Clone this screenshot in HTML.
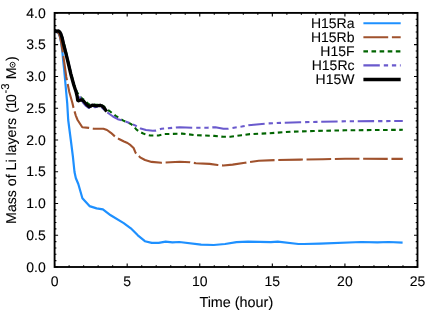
<!DOCTYPE html>
<html><head><meta charset="utf-8"><title>chart</title>
<style>
html,body{margin:0;padding:0;background:#fff;}
body{width:436px;height:318px;overflow:hidden;}
svg{display:block;will-change:transform;}
text{text-rendering:geometricPrecision;}
text{font-family:"Liberation Sans",sans-serif;font-size:14px;fill:#000;stroke:#000;stroke-width:0.1px;}
</style></head><body>
<svg width="436" height="318" viewBox="0 0 436 318">
<rect x="0" y="0" width="436" height="318" fill="#fff"/>

<g fill="none" stroke-linejoin="round" stroke-linecap="butt">
<path d="M54.6,31.8 L57.0,32.2 L58.8,33.8 L60.0,37.0 L61.2,43.0 L62.3,51.0 L63.1,60.0 L64.2,70.0 L66.0,90.0 L67.2,103.0 L68.2,120.0 L70.8,140.0 L72.9,156.6 L74.5,172.0 L75.8,178.0 L78.3,184.0 L82.4,198.3 L89.5,206.1 L96.6,208.4 L102.9,209.4 L110.7,215.3 L123.7,223.1 L130.8,228.3 L137.8,235.3 L144.9,241.2 L151.8,242.9 L158.7,242.9 L165.6,241.7 L172.4,242.4 L179.3,242.0 L201.1,244.7 L213.7,245.0 L225.0,244.0 L236.5,242.2 L248.0,241.7 L270.9,242.2 L277.8,241.7 L298.4,244.0 L304.0,244.0 L320.0,243.6 L361.3,242.0 L377.3,242.4 L388.8,242.0 L402.6,242.7" stroke="#1e90ff" stroke-width="2.2"/>
<path d="M54.6,31.8 L57.2,32.2 L58.8,33.5 L59.9,36.5 L61.3,43.0 L62.6,51.0 L64.2,62.0 L66.3,77.0 L69.3,92.0 L72.4,103.0 L73.5,107.7 L75.7,115.3 L77.6,120.0 L82.3,127.2 L88.9,127.9 L93.6,128.7 L103.4,128.7 L107.0,130.0 L110.9,132.8 L115.0,136.5 L118.5,138.7 L124.0,141.5 L127.5,143.0 L130.6,145.2 L133.6,148.0 L135.6,152.8 L140.1,157.3 L145.0,160.0 L151.6,161.9 L161.5,162.8 L179.8,161.8 L190.1,162.3 L195.9,163.2 L209.6,163.9 L217.7,165.0 L223.4,165.5 L232.6,164.6 L245.0,162.8 L258.8,160.8 L274.8,160.1 L300.0,159.6 L323.0,159.2 L345.0,158.7 L402.8,158.9" stroke="#a0522d" stroke-width="2.1" stroke-dasharray="24.6 3.7" stroke-dashoffset="0.6"/>
<path d="M54.6,31.0 L57.5,31.2 L59.5,32.0 L61.0,33.8 L62.4,37.5 L64.0,44.0 L65.8,51.0 L68.3,62.0 L71.1,74.0 L74.3,85.0 L76.9,92.0 L79.0,95.0 L81.3,97.8 L84.0,99.8 L86.5,102.0 L88.8,104.5 L92.0,104.3 L96.0,104.9 L100.0,104.5 L104.0,106.5 L106.6,109.3 L109.5,111.0 L116.5,116.5 L123.4,120.6 L131.0,124.0 L133.5,126.0 L136.1,129.2 L139.0,131.5 L142.7,133.3 L146.0,134.6 L150.3,135.5 L158.6,135.5 L163.8,134.1 L182.1,133.6 L195.9,135.2 L214.2,135.9 L223.4,136.8 L230.3,136.8 L241.7,135.2 L250.0,134.1 L268.0,133.3 L290.9,131.7 L313.8,131.0 L345.0,130.3 L402.8,129.8" stroke="#006400" stroke-width="2.1" stroke-dasharray="4.6 3.5" stroke-dashoffset="7.1"/>
<path d="M54.6,31.0 L57.5,31.2 L59.5,32.0 L61.0,33.8 L62.4,37.5 L64.0,44.0 L65.8,51.0 L68.3,62.0 L71.1,74.0 L74.1,85.0 L76.5,92.0 L78.5,95.5 L80.2,97.6 L82.0,100.5 L83.0,102.5 L86.0,106.0 L88.7,108.0 L92.0,106.3 L95.0,107.2 L100.0,106.5 L102.0,107.5 L104.0,109.5 L106.6,112.0 L108.1,113.0 L113.0,116.5 L117.8,119.2 L122.0,120.3 L128.2,122.4 L135.1,125.4 L140.7,128.6 L146.0,130.0 L152.8,130.7 L155.9,130.6 L161.5,128.8 L179.8,127.2 L192.4,127.7 L207.3,127.7 L215.4,127.2 L223.4,128.8 L228.0,128.8 L241.7,126.5 L248.4,125.2 L268.0,123.4 L300.0,122.2 L320.7,121.8 L345.0,121.3 L402.8,121.0" stroke="#6a5acd" stroke-width="2.1" stroke-dasharray="16.4 4 4.3 3.8 4.3 3.7"/>
<path d="M54.6,30.4 L56.6,31.2 L58.6,31.0 L59.8,32.0 L60.8,33.8 L62.0,37.5 L63.5,44.0 L65.3,51.0 L68.0,62.0 L70.8,74.0 L73.8,85.0 L76.2,92.3 L77.2,96.5 L77.7,100.3 L78.6,100.8 L80.0,100.2 L81.8,99.8 L83.5,101.0 L86.5,104.5 L89.1,106.7 L90.5,106.2 L92.3,105.1 L94.0,105.3 L96.0,105.8 L98.0,105.6 L100.1,105.3 L102.0,106.0 L103.8,107.6 L105.3,109.5 L106.6,111.7" stroke="#000" stroke-width="3.35"/>
</g>
<text x="354.5" y="28.2" text-anchor="end">H15Ra</text>
<path d="M363.4,23.3 L400.7,23.3" stroke="#1e90ff" stroke-width="2.1" fill="none"/>
<text x="354.5" y="42.2" text-anchor="end">H15Rb</text>
<path d="M363.4,37.3 L400.7,37.3" stroke="#a0522d" stroke-width="2.1" fill="none" stroke-dasharray="24.8 3.7"/>
<text x="354.5" y="56.3" text-anchor="end">H15F</text>
<path d="M363.4,51.4 L400.7,51.4" stroke="#006400" stroke-width="2.1" fill="none" stroke-dasharray="4.6 3.5"/>
<text x="354.5" y="70.3" text-anchor="end">H15Rc</text>
<path d="M363.4,65.4 L400.7,65.4" stroke="#6a5acd" stroke-width="2.1" fill="none" stroke-dasharray="16.4 4 4.3 3.8 4.3 3.7"/>
<text x="354.5" y="84.4" text-anchor="end">H15W</text>
<path d="M363.4,79.5 L400.7,79.5" stroke="#000" stroke-width="3.3" fill="none"/>
<rect x="54.6" y="12.9" width="362.9" height="254.1" fill="none" stroke="#000" stroke-width="1.85"/>
<path d="M54.60,267.00 v-3.5 M54.60,12.90 v3.5 M69.12,267.00 v-1.8 M69.12,12.90 v1.8 M83.63,267.00 v-1.8 M83.63,12.90 v1.8 M98.15,267.00 v-1.8 M98.15,12.90 v1.8 M112.66,267.00 v-1.8 M112.66,12.90 v1.8 M127.18,267.00 v-3.5 M127.18,12.90 v3.5 M141.70,267.00 v-1.8 M141.70,12.90 v1.8 M156.21,267.00 v-1.8 M156.21,12.90 v1.8 M170.73,267.00 v-1.8 M170.73,12.90 v1.8 M185.24,267.00 v-1.8 M185.24,12.90 v1.8 M199.76,267.00 v-3.5 M199.76,12.90 v3.5 M214.28,267.00 v-1.8 M214.28,12.90 v1.8 M228.79,267.00 v-1.8 M228.79,12.90 v1.8 M243.31,267.00 v-1.8 M243.31,12.90 v1.8 M257.82,267.00 v-1.8 M257.82,12.90 v1.8 M272.34,267.00 v-3.5 M272.34,12.90 v3.5 M286.86,267.00 v-1.8 M286.86,12.90 v1.8 M301.37,267.00 v-1.8 M301.37,12.90 v1.8 M315.89,267.00 v-1.8 M315.89,12.90 v1.8 M330.40,267.00 v-1.8 M330.40,12.90 v1.8 M344.92,267.00 v-3.5 M344.92,12.90 v3.5 M359.44,267.00 v-1.8 M359.44,12.90 v1.8 M373.95,267.00 v-1.8 M373.95,12.90 v1.8 M388.47,267.00 v-1.8 M388.47,12.90 v1.8 M402.98,267.00 v-1.8 M402.98,12.90 v1.8 M417.50,267.00 v-3.5 M417.50,12.90 v3.5 M54.60,267.00 h3.5 M417.50,267.00 h-3.5 M54.60,260.65 h1.8 M417.50,260.65 h-1.8 M54.60,254.29 h1.8 M417.50,254.29 h-1.8 M54.60,247.94 h1.8 M417.50,247.94 h-1.8 M54.60,241.59 h1.8 M417.50,241.59 h-1.8 M54.60,235.24 h3.5 M417.50,235.24 h-3.5 M54.60,228.88 h1.8 M417.50,228.88 h-1.8 M54.60,222.53 h1.8 M417.50,222.53 h-1.8 M54.60,216.18 h1.8 M417.50,216.18 h-1.8 M54.60,209.83 h1.8 M417.50,209.83 h-1.8 M54.60,203.47 h3.5 M417.50,203.47 h-3.5 M54.60,197.12 h1.8 M417.50,197.12 h-1.8 M54.60,190.77 h1.8 M417.50,190.77 h-1.8 M54.60,184.42 h1.8 M417.50,184.42 h-1.8 M54.60,178.06 h1.8 M417.50,178.06 h-1.8 M54.60,171.71 h3.5 M417.50,171.71 h-3.5 M54.60,165.36 h1.8 M417.50,165.36 h-1.8 M54.60,159.01 h1.8 M417.50,159.01 h-1.8 M54.60,152.66 h1.8 M417.50,152.66 h-1.8 M54.60,146.30 h1.8 M417.50,146.30 h-1.8 M54.60,139.95 h3.5 M417.50,139.95 h-3.5 M54.60,133.60 h1.8 M417.50,133.60 h-1.8 M54.60,127.25 h1.8 M417.50,127.25 h-1.8 M54.60,120.89 h1.8 M417.50,120.89 h-1.8 M54.60,114.54 h1.8 M417.50,114.54 h-1.8 M54.60,108.19 h3.5 M417.50,108.19 h-3.5 M54.60,101.84 h1.8 M417.50,101.84 h-1.8 M54.60,95.48 h1.8 M417.50,95.48 h-1.8 M54.60,89.13 h1.8 M417.50,89.13 h-1.8 M54.60,82.78 h1.8 M417.50,82.78 h-1.8 M54.60,76.43 h3.5 M417.50,76.43 h-3.5 M54.60,70.07 h1.8 M417.50,70.07 h-1.8 M54.60,63.72 h1.8 M417.50,63.72 h-1.8 M54.60,57.37 h1.8 M417.50,57.37 h-1.8 M54.60,51.02 h1.8 M417.50,51.02 h-1.8 M54.60,44.66 h3.5 M417.50,44.66 h-3.5 M54.60,38.31 h1.8 M417.50,38.31 h-1.8 M54.60,31.96 h1.8 M417.50,31.96 h-1.8 M54.60,25.61 h1.8 M417.50,25.61 h-1.8 M54.60,19.25 h1.8 M417.50,19.25 h-1.8 M54.60,12.90 h3.5 M417.50,12.90 h-3.5" stroke="#000" stroke-width="1.1" fill="none"/>
<text x="45.7" y="271.6" text-anchor="end">0.0</text>
<text x="45.7" y="239.8" text-anchor="end">0.5</text>
<text x="45.7" y="208.1" text-anchor="end">1.0</text>
<text x="45.7" y="176.3" text-anchor="end">1.5</text>
<text x="45.7" y="144.5" text-anchor="end">2.0</text>
<text x="45.7" y="112.8" text-anchor="end">2.5</text>
<text x="45.7" y="81.0" text-anchor="end">3.0</text>
<text x="45.7" y="49.3" text-anchor="end">3.5</text>
<text x="45.7" y="17.5" text-anchor="end">4.0</text>
<text x="54.6" y="285.5" text-anchor="middle">0</text>
<text x="127.2" y="285.5" text-anchor="middle">5</text>
<text x="199.8" y="285.5" text-anchor="middle">10</text>
<text x="272.3" y="285.5" text-anchor="middle">15</text>
<text x="344.9" y="285.5" text-anchor="middle">20</text>
<text x="417.5" y="285.5" text-anchor="middle">25</text>
<text x="236.3" y="306.9" text-anchor="middle" style="font-size:14.4px">Time (hour)</text>
<text transform="translate(15.7,223.9) rotate(-90)" x="0" y="0" style="font-size:14.15px">Mass of Li layers <tspan dx="1.1">(</tspan><tspan dx="-0.5">1</tspan><tspan dx="-1.2">0</tspan><tspan style="font-size:11.3px" dx="0.6" dy="-6.7">-3</tspan><tspan dx="0.3" dy="6.7"> M</tspan></text>
<g transform="translate(15.7,223.9) rotate(-90)"><circle cx="159.1" cy="-3.1" r="2.5" fill="none" stroke="#000" stroke-width="0.9"/><circle cx="159.1" cy="-3.1" r="0.75" fill="#000"/><text x="162.9" y="0" style="font-size:14.15px">)</text></g>
</svg></body></html>
